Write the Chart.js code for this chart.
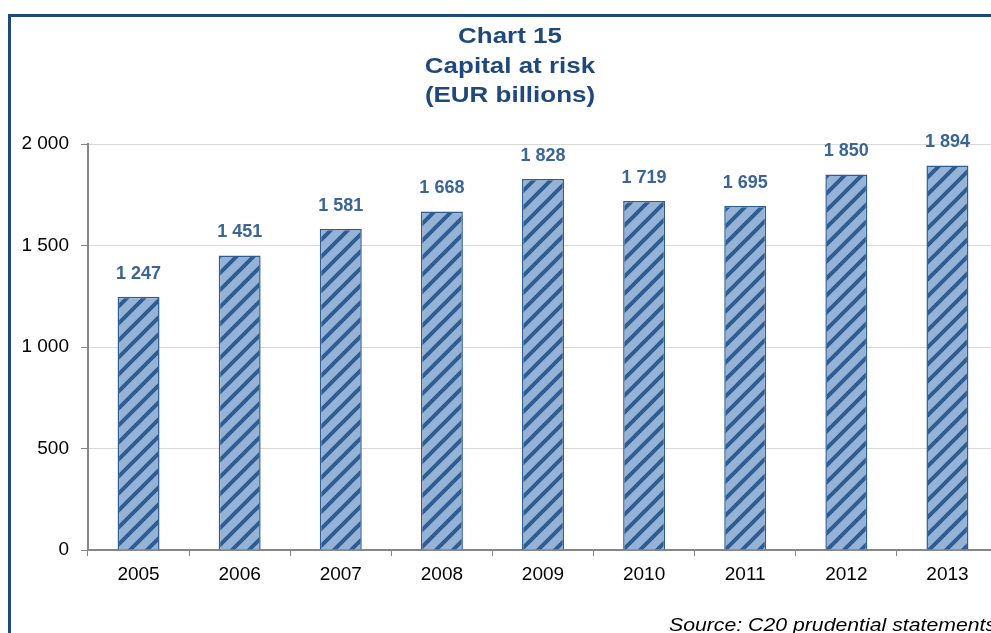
<!DOCTYPE html>
<html>
<head>
<meta charset="utf-8">
<script src="https://cdn.jsdelivr.net/npm/chart.js@4.4.1/dist/chart.umd.min.js"></script>
<style>
  html, body { margin: 0; padding: 0; overflow: hidden; background: #fff; }
  body { width: 991px; height: 633px; position: relative; }
  #frame { position: absolute; left: 8px; top: 14px; width: 1100px; height: 700px;
           border-left: 3px solid #1F497D; border-top: 3px solid #1F497D; }
  #titulo { position: absolute; left: 310px; width: 400px; top: 21px; text-align: center;
            font: bold 22px "Liberation Sans", Arial, sans-serif; color: #1F497D; line-height: 29.5px;
            transform: scaleX(1.18); }
  #fuente { position: absolute; left: 669px; top: 615px; white-space: nowrap;
            font: italic 18px "Liberation Sans", Arial, sans-serif; color: #000;
            transform: scaleX(1.18); transform-origin: left center; }
  #wrap { position: absolute; left: 0; top: 0; width: 1020px; height: 633px; }
</style>
</head>
<body>
<div id="frame"></div>
<div id="wrap"><canvas id="grafico"></canvas></div>
<div id="titulo">Chart 15<br>Capital at risk<br>(EUR billions)</div>
<div id="fuente">Source: C20 prudential statements</div>
<script>
const anios = ['2005', '2006', '2007', '2008', '2009', '2010', '2011', '2012', '2013'];
const capital = [1247, 1451, 1581, 1668, 1828, 1719, 1695, 1850, 1894];
const ticksY = [0, 500, 1000, 1500, 2000];

// Relleno rayado de las barras
function crearTrama() {
  const n = 17;
  const c = document.createElement('canvas');
  c.width = n; c.height = n;
  const ctx = c.getContext('2d');
  ctx.fillStyle = '#95B3D7';
  ctx.fillRect(0, 0, n, n);
  ctx.strokeStyle = '#2F5D92';
  ctx.lineWidth = 4;
  ctx.beginPath();
  ctx.moveTo(-4, n + 4); ctx.lineTo(n + 4, -4);
  ctx.moveTo(-n - 4, n + 4); ctx.lineTo(n + 4, -n - 4);
  ctx.moveTo(-4, 2 * n + 4); ctx.lineTo(2 * n + 4, -4);
  ctx.stroke();
  return document.createElement('canvas').getContext('2d').createPattern(c, 'repeat');
}

// Separador de miles con espacio
const fmt = v => String(v).replace(/\B(?=(\d{3})+(?!\d))/g, ' ');

const fuente = '"Liberation Sans", Arial, sans-serif';

// Etiquetas sobre las barras
const etiquetas = {
  id: 'etiquetas',
  afterDatasetsDraw(chart) {
    const ctx = chart.ctx;
    const meta = chart.getDatasetMeta(0);
    ctx.save();
    ctx.font = 'bold 18px ' + fuente;
    ctx.fillStyle = '#3A6597';
    ctx.textAlign = 'center';
    ctx.textBaseline = 'middle';
    meta.data.forEach((bar, i) => {
      ctx.fillText(fmt(capital[i]), bar.x, bar.y - 23);
    });
    ctx.restore();
  }
};

const grafico = document.getElementById('grafico');
new Chart(grafico, {
  type: 'bar',
  data: {
    labels: anios,
    datasets: [{
      data: capital,
      backgroundColor: crearTrama(),
      borderColor: '#2F5D92',
      borderWidth: 1.5,
      barPercentage: 0.415,
      categoryPercentage: 1
    }]
  },
  options: {
    responsive: true,
    maintainAspectRatio: false,
    animation: false,
    layout: { padding: { top: 144, right: 22, left: 0, bottom: 0 } },
    plugins: { legend: { display: false }, tooltip: { enabled: false } },
    scales: {
      x: {
        afterFit: s => { s.height = 83; },
        grid: { drawOnChartArea: false, offset: true, color: '#868686', tickLength: 6 },
        border: { color: '#868686', width: 2 },
        ticks: { color: '#000', padding: 7, font: { family: fuente, size: 19 } }
      },
      y: {
        min: 0, max: 2000,
        afterFit: s => { s.width = 88; },
        afterBuildTicks: s => { s.ticks = ticksY.map(v => ({ value: v })); },
        grid: { color: '#D9D9D9', tickColor: '#868686', tickLength: 7 },
        border: { color: '#868686', width: 2 },
        ticks: {
          color: '#000', padding: 12,
          font: { family: fuente, size: 19 },
          callback: v => fmt(v)
        }
      }
    }
  },
  plugins: [etiquetas]
});
</script>
</body>
</html>
